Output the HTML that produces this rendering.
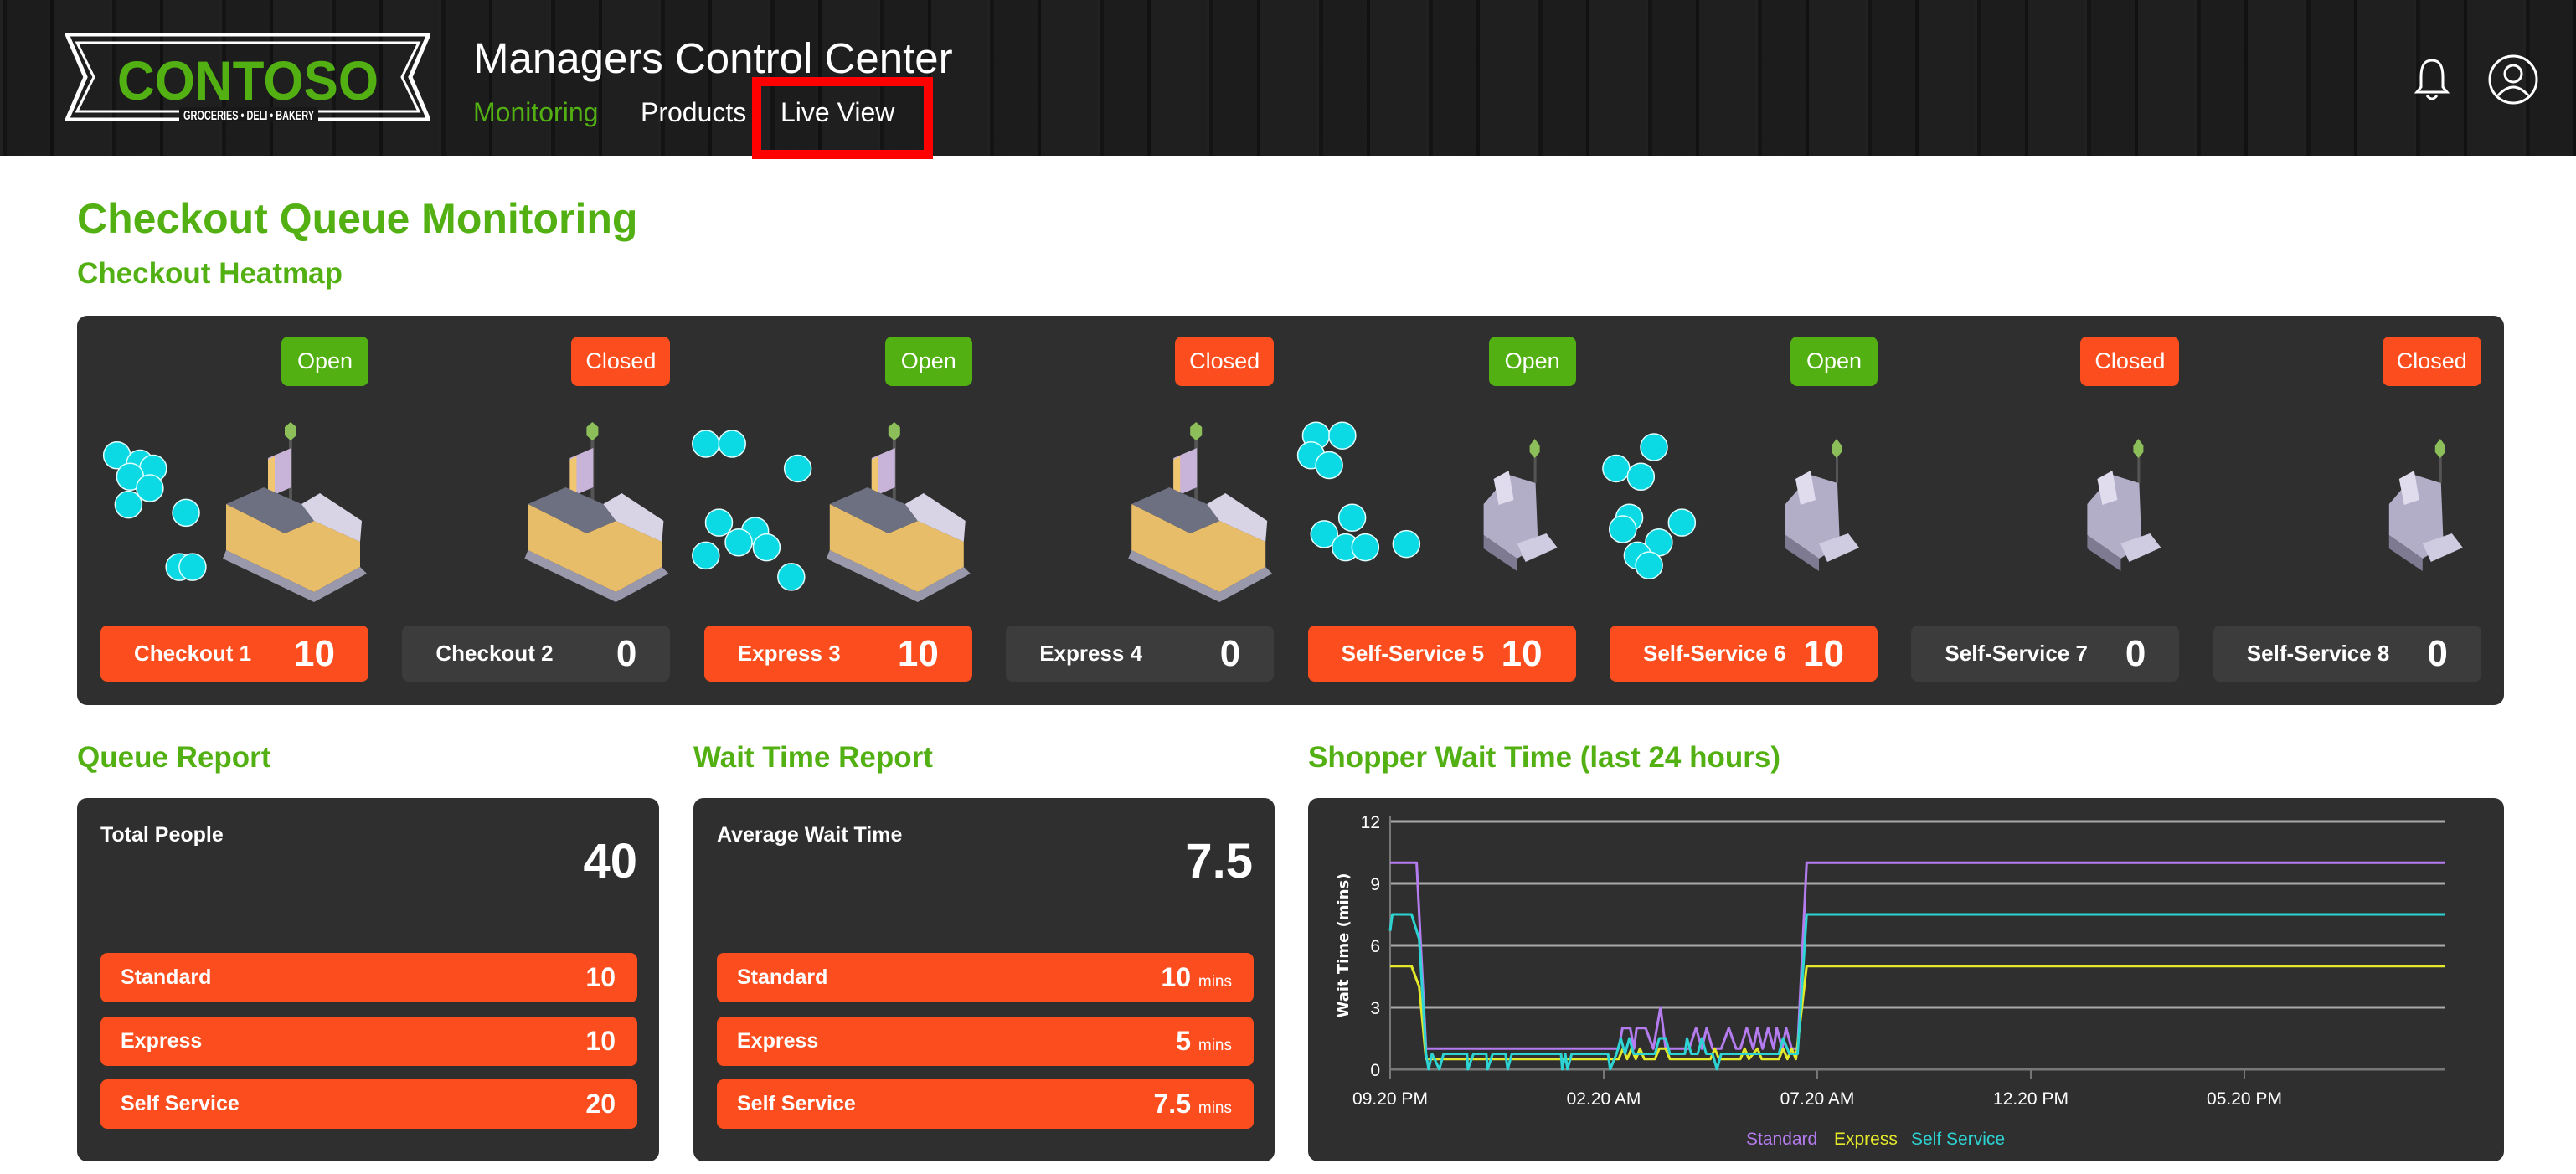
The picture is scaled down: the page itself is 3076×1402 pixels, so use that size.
<!DOCTYPE html>
<html><head><meta charset="utf-8">
<style>
*{box-sizing:border-box;margin:0;padding:0}
body{width:3076px;height:1402px;background:#fff;font-family:"Liberation Sans",sans-serif;position:relative;overflow:hidden}
.abs{position:absolute}
#header{left:0;top:0;width:3076px;height:186px;background:#181818;background-image:repeating-linear-gradient(90deg,rgba(255,255,255,0.04) 0 3px,rgba(0,0,0,0.15) 3px 8px,rgba(255,255,255,0.02) 8px 60px,rgba(0,0,0,0.3) 60px 64px,rgba(255,255,255,0.03) 64px 131px)}
.green{color:#52b012}
.h1{font-size:50px;font-weight:bold}
.h2{font-size:35px;font-weight:bold}
.panel{background:#2f2f2f;border-radius:12px}
.badge{height:59px;border-radius:8px;color:#fff;font-size:27px;text-align:center;line-height:59px}
.nbox{height:67px;width:320px;border-radius:8px;color:#fff}
.nbox .l{position:absolute;left:40px;top:0;line-height:67px;font-size:26px;font-weight:bold}
.nbox .n{position:absolute;right:40px;top:0;line-height:67px;font-size:44px;font-weight:bold}
.row{left:28px;width:641px;height:59px;background:#fb4d1d;border-radius:8px;color:#fff}
.row .l{position:absolute;left:24px;line-height:59px;font-size:25px;font-weight:bold}
.row .n{position:absolute;right:26px;line-height:59px;font-size:32px;font-weight:bold}
.row .n small{font-size:19px;font-weight:normal}
</style></head><body>
<div id="header" class="abs">
  <svg class="abs" style="left:78px;top:39px" width="436" height="106">
    <polygon points="2,2 434,2 412,53 434,104 2,104 24,53" fill="none" stroke="#fff" stroke-width="5"/>
    <polygon points="14,12 422,12 402,53 422,94 14,94 34,53" fill="none" stroke="#fff" stroke-width="3"/>
    <text x="218" y="80" text-anchor="middle" font-family="Liberation Sans Narrow, Liberation Sans" font-weight="bold" font-size="66" fill="#52b012" textLength="312" lengthAdjust="spacingAndGlyphs">CONTOSO</text>
    <rect x="136" y="89" width="166" height="18" fill="#181818"/>
    <text x="219" y="104" text-anchor="middle" font-family="Liberation Sans Narrow, Liberation Sans" font-weight="bold" font-size="16" fill="#fff" textLength="156" lengthAdjust="spacingAndGlyphs">GROCERIES • DELI • BAKERY</text>
  </svg>
  <div class="abs" style="left:565px;top:40px;font-size:51px;color:#fff">Managers Control Center</div>
  <div class="abs green" style="left:565px;top:116px;font-size:32px">Monitoring</div>
  <div class="abs" style="left:765px;top:116px;font-size:32px;color:#fff">Products</div>
  <div class="abs" style="left:932px;top:116px;font-size:32px;color:#fff">Live View</div>
  <div class="abs" style="left:898px;top:92px;width:216px;height:98px;border:11px solid #f00"></div>
  <svg class="abs" style="left:2882px;top:68px" width="44" height="54"><path d="M22 4 C11 4 9 14 9 24 L9 36 L4 42 L40 42 L35 36 L35 24 C35 14 33 4 22 4Z M16 46 Q22 54 28 46" fill="none" stroke="#fff" stroke-width="3"/></svg>
  <svg class="abs" style="left:2970px;top:64px" width="62" height="62"><circle cx="31" cy="31" r="28" fill="none" stroke="#fff" stroke-width="3"/><circle cx="31" cy="24" r="10" fill="none" stroke="#fff" stroke-width="3"/><path d="M13 50 Q31 30 49 50" fill="none" stroke="#fff" stroke-width="3"/></svg>
</div>

<div class="abs green h1" style="left:92px;top:232px">Checkout Queue Monitoring</div>
<div class="abs green h2" style="left:92px;top:307px">Checkout Heatmap</div>
<div id="heat" class="abs panel" style="left:92px;top:377px;width:2898px;height:465px"></div>

<div class="abs green h2" style="left:92px;top:885px">Queue Report</div>
<div class="abs green h2" style="left:828px;top:885px">Wait Time Report</div>
<div class="abs green h2" style="left:1562px;top:885px">Shopper Wait Time (last 24 hours)</div>

<div class="abs panel" style="left:92px;top:953px;width:695px;height:434px">
  <div class="abs" style="left:28px;top:30px;color:#fff;font-size:25px;font-weight:bold">Total People</div>
  <div class="abs" style="right:26px;top:42px;color:#fff;font-size:58px;font-weight:bold">40</div>
  <div class="abs row" style="top:185px"><span class="l">Standard</span><span class="n">10</span></div>
  <div class="abs row" style="top:261px"><span class="l">Express</span><span class="n">10</span></div>
  <div class="abs row" style="top:336px"><span class="l">Self Service</span><span class="n">20</span></div>
</div>
<div class="abs panel" style="left:828px;top:953px;width:694px;height:434px">
  <div class="abs" style="left:28px;top:30px;color:#fff;font-size:25px;font-weight:bold">Average Wait Time</div>
  <div class="abs" style="right:26px;top:42px;color:#fff;font-size:58px;font-weight:bold">7.5</div>
  <div class="abs row" style="top:185px"><span class="l">Standard</span><span class="n">10 <small>mins</small></span></div>
  <div class="abs row" style="top:261px"><span class="l">Express</span><span class="n">5 <small>mins</small></span></div>
  <div class="abs row" style="top:336px"><span class="l">Self Service</span><span class="n">7.5 <small>mins</small></span></div>
</div>
<div class="abs panel" style="left:1562px;top:953px;width:1428px;height:434px"></div>
<svg id="chart" class="abs" style="left:0;top:0" width="3076" height="1402"></svg>

<script>
// ---- heatmap data ----
const lanes=["Checkout 1","Checkout 2","Express 3","Express 4","Self-Service 5","Self-Service 6","Self-Service 7","Self-Service 8"];
const laneCounts=[10,0,10,0,10,10,0,0];
const laneStatus=["Open","Closed","Open","Closed","Open","Open","Closed","Closed"];
// ---- chart data (hours since 09.20 PM, minutes) ----
const stdT=[0,0.62,0.84,5.35,5.44,5.62,5.71,5.77,5.98,6.16,6.33,6.45,7.0,7.16,7.3,7.41,7.55,7.75,7.93,8.1,8.2,8.35,8.5,8.6,8.72,8.85,8.98,9.05,9.18,9.27,9.4,9.54,9.75,24.7];
const stdV=[10,10,1,1,2,2,1,2,2,1,3,1,1,2,1,2,1,1,2,1,1,2,1,2,1,2,1,2,1,2,1,1,10,10];
const expT=[0,0.5,0.68,0.84,5.35,5.45,5.55,5.65,5.75,5.85,5.95,6.2,6.3,6.45,6.55,7.5,7.6,7.7,8.2,8.3,8.4,8.6,8.7,9.1,9.2,9.3,9.4,9.5,9.75,24.7];
const expV=[5,5,4,0.5,0.5,1,0.5,1,0.5,1,0.5,0.5,1,1,0.5,0.5,1,0.5,0.5,1,0.5,1,0.5,0.5,1,0.5,1,0.5,5,5];
const selfT=[0,0.05,0.5,0.68,0.84,0.9,0.98,1.15,1.25,1.8,1.82,1.95,2.25,2.28,2.4,2.7,2.75,2.85,4.0,4.03,4.1,4.15,4.25,5.1,5.15,5.3,5.4,5.5,5.6,5.7,6.2,6.3,6.45,6.55,6.9,6.95,7.05,7.2,7.3,7.4,7.55,7.65,7.75,9.1,9.2,9.35,9.54,9.75,24.7];
const selfV=[6.7,7.5,7.5,6.3,0.75,0,0.75,0,0.75,0.75,0,0.75,0.75,0,0.75,0.75,0,0.75,0.75,0,0.75,0,0.75,0.75,0,0.75,1.5,0.75,1.5,0.75,0.75,1.5,1.5,0.75,0.75,1.5,0.75,0.75,1.5,0.75,0.75,0,0.75,0.75,1.5,0.75,0.75,7.5,7.5];
const yTicks=[0,3,6,9,12];
const xTickHours=[0,5,10,15,20];
const xTickLabels=["09.20 PM","02.20 AM","07.20 AM","12.20 PM","05.20 PM"];
const seriesNames=["Standard","Express","Self Service"];

const NS="http://www.w3.org/2000/svg";
function mk(tag,attrs,parent){const e=document.createElementNS(NS,tag);for(const k in attrs)e.setAttribute(k,attrs[k]);parent.appendChild(e);return e;}

// heatmap
const heat=document.getElementById('heat');
const circleSets={0:[[9,277],[23,282],[31,285],[17,290],[29,297],[16,307],[51,312],[47,345],[55,345]],
2:[[0,270],[16,270],[56,285],[8,318],[30,323],[20,330],[0,338],[37,333],[52,351]],
4:[[4,265],[20,265],[1,277],[12,283],[26,315],[9,325],[22,333],[34,333],[59,331]],
5:[[26,272],[3,285],[18,290],[11,315],[43,318],[7,322],[29,330],[16,338],[23,344]]};
const hs=document.createElementNS(NS,'svg');hs.setAttribute('width','2898');hs.setAttribute('height','465');hs.style.position='absolute';
heat.appendChild(hs);
const S=3076/1568;
lanes.forEach((name,i)=>{
  const bx=28+i*360.4;
  const open=laneStatus[i]==="Open";
  const b=document.createElement('div');
  b.className='abs badge';
  
  
  const bw=open?104:118;
  b.style.left=(bx+320-bw)+'px';b.style.top='25px';b.style.width=bw+'px';
  b.style.background=open?'#52b012':'#fb4d1d';b.textContent=laneStatus[i];
  heat.appendChild(b);
  const n=document.createElement('div');
  n.className='abs nbox';
  
  
  n.style.left=bx+'px';n.style.top='370px';
  n.style.background=laneCounts[i]>0?'#fb4d1d':'#3c3c3c';
  n.innerHTML='<span class="l">'+name+'</span><span class="n">'+laneCounts[i]+'</span>';
  heat.appendChild(n);
  const g=mk('g',{transform:'translate('+bx+',0)'},hs);
  
  
  if(i<4){
    mk('rect',{x:225,y:135,width:4,height:100,fill:'#555'},g);
    mk('polygon',{points:'220,133 227,127 234,133 234,143 227,149 220,143',fill:'#8cbf5a'},g);
    mk('polygon',{points:'200,170 228,158 228,205 200,217',fill:'#c8b4d8'},g);
    mk('polygon',{points:'200,172 208,168 208,215 200,219',fill:'#f0c670'},g);
    mk('polygon',{points:'150,225 220,260 255,245 310,270 310,300 255,330 150,280',fill:'#e8bd6a'},g);
    mk('polygon',{points:'150,225 195,205 240,225 255,245 220,260',fill:'#6d7081'},g);
    mk('polygon',{points:'240,225 262,212 312,245 310,270 255,245',fill:'#d8d4e6'},g);
    mk('polygon',{points:'150,280 255,330 310,300 318,308 255,342 146,290',fill:'#9a98ab'},g);
  } else {
    mk('rect',{x:270,y:155,width:3,height:45,fill:'#555'},g);
    mk('polygon',{points:'265,155 271,147 277,155 277,163 271,170 265,163',fill:'#8cbf5a'},g);
    mk('polygon',{points:'240,190 272,200 275,275 250,290 210,262 210,225',fill:'#b3aec8'},g);
    mk('polygon',{points:'222,195 240,185 246,220 228,226',fill:'#e0dcee'},g);
    mk('polygon',{points:'250,272 285,260 298,277 260,294',fill:'#cfcbe0'},g);
    mk('polygon',{points:'210,262 250,290 250,305 210,278',fill:'#7e7a92'},g);
  }
  (circleSets[i]||[]).forEach(p=>{
    const c=mk('circle',{cx:bx+p[0]*S+2,cy:(p[1]-192)*S,r:16,fill:'#0bd9e4',stroke:'#e0ffff','stroke-width':1.5},hs);
    
    
  });
});

// chart
const svg=document.getElementById('chart');
const X0=1660,X1=2919,Y0=1277,Y12=981;
const PXH=255/5;
const xs=h=>Math.min(X1,X0+h*PXH);
const ys=v=>Y0-(v/12)*(Y0-Y12);
yTicks.forEach(t=>{
  const l=mk('line',{x1:X0,x2:X1,y1:ys(t),y2:ys(t),stroke:t===0?'#777':'#aaa','stroke-width':3},svg);
  
  
  const tx=mk('text',{x:X0-12,y:ys(t)+8,'text-anchor':'end',fill:'#fff','font-size':21,'font-family':'Liberation Sans'},svg);
  tx.textContent=t;
  
  
});
mk('line',{x1:X0,x2:X0,y1:Y12-6,y2:Y0+12,stroke:'#777','stroke-width':2},svg);
xTickHours.forEach((h,i)=>{
  mk('line',{x1:xs(h),x2:xs(h),y1:Y0,y2:Y0+12,stroke:'#777','stroke-width':2},svg);
  const tx=mk('text',{x:xs(h),y:1319,'text-anchor':'middle',fill:'#fff','font-size':21,'font-family':'Liberation Sans'},svg);
  tx.textContent=xTickLabels[i];
  
  
});
const yt=mk('text',{x:0,y:0,transform:'translate(1610,1129) rotate(-90)','text-anchor':'middle',fill:'#fff','font-size':18,'font-weight':'bold','font-family':'DejaVu Sans'},svg);
yt.textContent='Wait Time (mins)';


const colors=['#b57cf0','#e3e82a','#2ed3d3'];
[[stdT,stdV],[expT,expV],[selfT,selfV]].forEach((s,k)=>{
  const pts=s[0].map((t,j)=>xs(t).toFixed(1)+','+ys(s[1][j]).toFixed(1)).join(' ');
  const p=mk('polyline',{points:pts,fill:'none',stroke:colors[k],'stroke-width':3,'stroke-linejoin':'round'},svg);
  
  
});
const lx=[2085,2190,2282];
seriesNames.forEach((nm,k)=>{
  const tx=mk('text',{x:lx[k],y:1367,fill:colors[k],'font-size':21,'font-family':'Liberation Sans'},svg);
  tx.textContent=nm;
  
  
});
</script>
</body></html>
